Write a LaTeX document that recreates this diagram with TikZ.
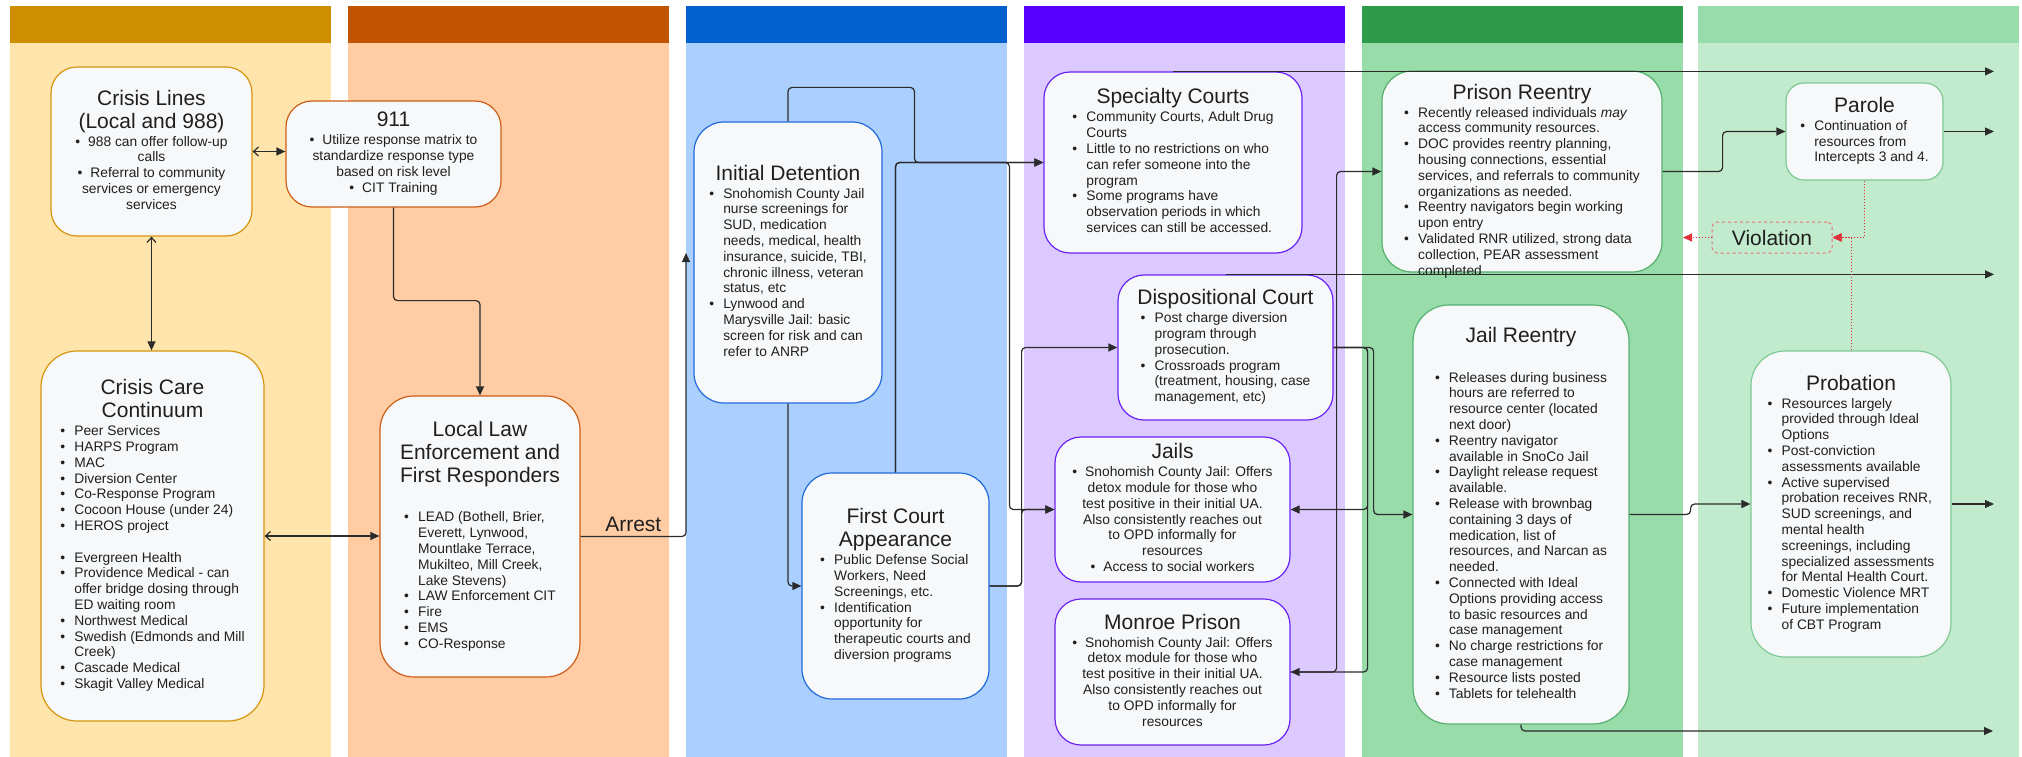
\documentclass[tikz,border=0pt]{standalone}
\usepackage{fontspec}
\setmainfont{Liberation Sans}
\usepackage{tikz}
\usetikzlibrary{arrows.meta}

\definecolor{c1head}{HTML}{CF8D00}
\definecolor{c1body}{HTML}{FFE4AB}
\definecolor{c1line}{HTML}{D6950F}
\definecolor{c2head}{HTML}{C15400}
\definecolor{c2body}{HTML}{FFCCA4}
\definecolor{c2line}{HTML}{CC5E17}
\definecolor{c3head}{HTML}{0160CE}
\definecolor{c3body}{HTML}{ABD0FF}
\definecolor{c3line}{HTML}{1F6AD9}
\definecolor{c4head}{HTML}{5600FF}
\definecolor{c4body}{HTML}{DBC9FF}
\definecolor{c4line}{HTML}{6B22F5}
\definecolor{c5head}{HTML}{2E9A4A}
\definecolor{c5body}{HTML}{98DCAA}
\definecolor{c5line}{HTML}{55B06E}
\definecolor{c6head}{HTML}{99DCAB}
\definecolor{c6body}{HTML}{C2EBCD}
\definecolor{c6line}{HTML}{7DC993}
\definecolor{boxfill}{HTML}{F6F8FA}
\definecolor{flowline}{HTML}{2B2B2B}
\definecolor{violred}{HTML}{E0303A}

\newcommand{\stagetitle}{\fontsize{21}{23}\selectfont}
\newcommand{\stagebody}{\fontsize{13.8}{15.8}\selectfont}
\newcommand{\itmb}{\makebox[14pt][l]{\textbullet}}
\newcommand{\itmc}{\hspace*{14pt}}
\newcommand{\itmcen}{\textbullet\hspace{8pt}}
\newcommand{\boxtext}[4][0pt]{\begin{tabular}{@{}c@{}}{\stagetitle\begin{tabular}[b]{@{}c@{}}#3\end{tabular}}\\[#1]{\stagebody\begin{tabular}[t]{@{}#2@{}}#4\end{tabular}}\end{tabular}}
\newcommand{\stagenode}[5]{\node [stagebox=#3, #4] (#1) at (#2) {#5}}

\tikzset{
  stagebox/.style={draw=#1, fill=boxfill, rounded corners=26pt, line width=1.2pt,
    inner sep=2pt, font=\stagebody, text=black!88},
  flow/.style={draw=flowline, line width=1.2pt, rounded corners=4pt,
    -{Triangle[length=9pt,width=8pt]}},
  flowboth/.style={flow, {Straight Barb[length=5pt,width=9pt]}-{Triangle[length=9pt,width=8pt]}},
  viol/.style={draw=violred, dotted, line width=1pt, -{Triangle[length=9pt,width=8pt]}},
}

\begin{document}
\begin{tikzpicture}[x=1pt, y=-1pt]
\useasboundingbox (0,0) rectangle (2022,757);

\foreach \cx/\colh/\colb in {10/c1head/c1body,348/c2head/c2body,686/c3head/c3body,
    1024/c4head/c4body,1362/c5head/c5body,1698/c6head/c6body}{
  \fill[\colb] (\cx,6) rectangle ++(321,751);
  \fill[\colh] (\cx,6) rectangle ++(321,37);
}

\stagenode{crisislines}{151.5,151.5}{c1line}{minimum width=201pt, minimum height=169pt}{\boxtext{c}{Crisis Lines\\(Local and 988)}{%
\itmcen 988 can offer follow-up\\calls\\
\itmcen Referral to community\\services or emergency\\services}};

\stagenode{n911}{393.5,154}{c2line}{minimum width=215pt, minimum height=106pt}{\boxtext{c}{911}{%
\itmcen Utilize response matrix to\\standardize response type\\based on risk level\\
\itmcen CIT Training}};

\stagenode{crisiscare}{152.5,536}{c1line}{minimum width=223pt, minimum height=370pt, rounded corners=36pt}{\boxtext{l}{Crisis Care\\Continuum}{%
\itmb Peer Services\\
\itmb HARPS Program\\
\itmb MAC\\
\itmb Diversion Center\\
\itmb Co-Response Program\\
\itmb Cocoon House (under 24)\\
\itmb HEROS project\\[15.8pt]
\itmb Evergreen Health\\
\itmb Providence Medical - can\\
\itmc offer bridge dosing through\\
\itmc ED waiting room\\
\itmb Northwest Medical\\
\itmb Swedish (Edmonds and Mill\\
\itmc Creek)\\
\itmb Cascade Medical\\
\itmb Skagit Valley Medical}};

\stagenode{lawenf}{480,536.5}{c2line}{minimum width=200pt, minimum height=281pt, rounded corners=34pt}{\boxtext[24pt]{l}{Local Law\\Enforcement and\\First Responders}{%
\itmb LEAD (Bothell, Brier,\\
\itmc Everett, Lynwood,\\
\itmc Mountlake Terrace,\\
\itmc Mukilteo, Mill Creek,\\
\itmc Lake Stevens)\\
\itmb LAW Enforcement CIT\\
\itmb Fire\\
\itmb EMS\\
\itmb CO-Response}};

\stagenode{initdet}{788,262.5}{c3line}{minimum width=188pt, minimum height=281pt, rounded corners=30pt}{\boxtext{l}{Initial Detention}{%
\itmb Snohomish County Jail\\
\itmc nurse screenings for\\
\itmc SUD, medication\\
\itmc needs, medical, health\\
\itmc insurance, suicide, TBI,\\
\itmc chronic illness, veteran\\
\itmc status, etc\\
\itmb Lynwood and\\
\itmc Marysville Jail: basic\\
\itmc screen for risk and can\\
\itmc refer to ANRP}};

\stagenode{firstcourt}{895.5,586}{c3line}{minimum width=187pt, minimum height=226pt, rounded corners=30pt}{\boxtext{l}{First Court\\Appearance}{%
\itmb Public Defense Social\\
\itmc Workers, Need\\
\itmc Screenings, etc.\\
\itmb Identification\\
\itmc opportunity for\\
\itmc therapeutic courts and\\
\itmc diversion programs}};

\stagenode{specialty}{1173,162.5}{c4line}{minimum width=258pt, minimum height=181pt}{\boxtext{l}{Specialty Courts}{%
\itmb Community Courts, Adult Drug\\
\itmc Courts\\
\itmb Little to no restrictions on who\\
\itmc can refer someone into the\\
\itmc program\\
\itmb Some programs have\\
\itmc observation periods in which\\
\itmc services can still be accessed.}};

\stagenode{dispo}{1225.5,347.5}{c4line}{minimum width=215pt, minimum height=145pt}{\boxtext{l}{Dispositional Court}{%
\itmb Post charge diversion\\
\itmc program through\\
\itmc prosecution.\\
\itmb Crossroads program\\
\itmc (treatment, housing, case\\
\itmc management, etc)}};

\stagenode{jails}{1172.5,509.5}{c4line}{minimum width=235pt, minimum height=145pt}{\boxtext{c}{Jails}{%
\itmcen Snohomish County Jail: Offers\\detox module for those who\\test positive in their initial UA.\\
Also consistently reaches out\\to OPD informally for\\resources\\
\itmcen Access to social workers}};

\stagenode{monroe}{1172.5,672}{c4line}{minimum width=235pt, minimum height=146pt}{\boxtext{c}{Monroe Prison}{%
\itmcen Snohomish County Jail: Offers\\detox module for those who\\test positive in their initial UA.\\
Also consistently reaches out\\to OPD informally for\\resources}};

\stagenode{prisonre}{1522,171.5}{c5line}{minimum width=280pt, minimum height=201pt, rounded corners=30pt}{\raisebox{-10pt}[\height][\depth]{\boxtext{l}{Prison Reentry}{%
\itmb Recently released individuals \textit{may}\\
\itmc access community resources.\\
\itmb DOC provides reentry planning,\\
\itmc housing connections, essential\\
\itmc services, and referrals to community\\
\itmc organizations as needed.\\
\itmb Reentry navigators begin working\\
\itmc upon entry\\
\itmb Validated RNR utilized, strong data\\
\itmc collection, PEAR assessment\\
\itmc completed}}};

\stagenode{jailre}{1521,514.5}{c5line}{minimum width=216pt, minimum height=419pt, rounded corners=36pt}{\boxtext[24pt]{l}{Jail Reentry}{%
\itmb Releases during business\\
\itmc hours are referred to\\
\itmc resource center (located\\
\itmc next door)\\
\itmb Reentry navigator\\
\itmc available in SnoCo Jail\\
\itmb Daylight release request\\
\itmc available.\\
\itmb Release with brownbag\\
\itmc containing 3 days of\\
\itmc medication, list of\\
\itmc resources, and Narcan as\\
\itmc needed.\\
\itmb Connected with Ideal\\
\itmc Options providing access\\
\itmc to basic resources and\\
\itmc case management\\
\itmb No charge restrictions for\\
\itmc case management\\
\itmb Resource lists posted\\
\itmb Tablets for telehealth}};

\stagenode{parole}{1864.5,131.5}{c6line}{minimum width=157pt, minimum height=97pt, rounded corners=18pt}{\boxtext{l}{Parole}{%
\itmb Continuation of\\
\itmc resources from\\
\itmc Intercepts 3 and 4.}};

\stagenode{probation}{1851,504}{c6line}{minimum width=200pt, minimum height=306pt, rounded corners=34pt}{\boxtext{l}{Probation}{%
\itmb Resources largely\\
\itmc provided through Ideal\\
\itmc Options\\
\itmb Post-conviction\\
\itmc assessments available\\
\itmb Active supervised\\
\itmc probation receives RNR,\\
\itmc SUD screenings, and\\
\itmc mental health\\
\itmc screenings, including\\
\itmc specialized assessments\\
\itmc for Mental Health Court.\\
\itmb Domestic Violence MRT\\
\itmb Future implementation\\
\itmc of CBT Program}};

\node [draw=violred!70, dashed, rounded corners=5pt, line width=1pt, minimum width=120pt,
  minimum height=31pt, inner sep=0pt, font=\stagetitle, text=black!88] (violation) at (1772,237.5) {Violation};

\coordinate (arrestend) at (686,253);
\coordinate (rightedge) at (1994,0);
\coordinate (bottomout) at (1993,731);
\coordinate (violout) at (1683,237.5);

% intercept 0 and 1
\draw[flowboth] (crisislines.east) -- (crisislines.east -| n911.west);
\draw[flowboth] (crisislines.south) -- (crisislines.south |- crisiscare.north);
\draw[flowboth] (crisiscare.east) -- (crisiscare.east -| lawenf.west);
\draw[flow] (n911.south) -- ++(0,93) -| (lawenf.north);
\draw[flow] (lawenf.east) -- (lawenf.east -| arrestend) node [midway, above=1pt, font=\stagetitle, text=black!88] {Arrest} -- (arrestend);

% intercept 2 and 3
\draw[flow] (initdet.north) -- ++(0,-34) -| ([xshift=-129pt]specialty.west) -- (specialty.west);
\draw[flow] (initdet.south) |- (firstcourt.west);
\draw[flow] (firstcourt.north) |- (specialty.west);
\draw[flow] (firstcourt.north) |- ([xshift=-45pt]jails.west |- specialty.west) |- (jails.west);
\draw[flow] (firstcourt.east) -- ++(32,0) |- (dispo.west);
\draw[flow] (firstcourt.east) -- ++(32,0) |- (jails.west);
\draw[flow] (specialty.north) -- (specialty.north -| rightedge);
\draw[flow] (dispo.north) -- (dispo.north -| rightedge);
\draw[flow] (dispo.east) -- ++(34,0) |- (jails.east);
\draw[flow] (dispo.east) -- ++(34,0) |- (monroe.east);
\draw[flow] (dispo.east) -- ++(40,0) |- (jailre.west);
\draw[flow] (monroe.east) -- ++(46,0) |- (prisonre.west);

% intercept 4 and 5
\draw[flow] (prisonre.east) -- ++(60,0) |- (parole.west);
\draw[flow] (parole.east) -- (parole.east -| rightedge);
\draw[flow] (jailre.east) -- ++(61,0) |- (probation.west);
\draw[flow] (probation.east) -- (probation.east -| rightedge);
\draw[flow] (jailre.south) |- (bottomout);
\draw[viol] (parole.south) |- (violation.east);
\draw[viol] (probation.north) |- (violation.east);
\draw[viol] (violation.west) -- (violout);

\end{tikzpicture}
\end{document}
